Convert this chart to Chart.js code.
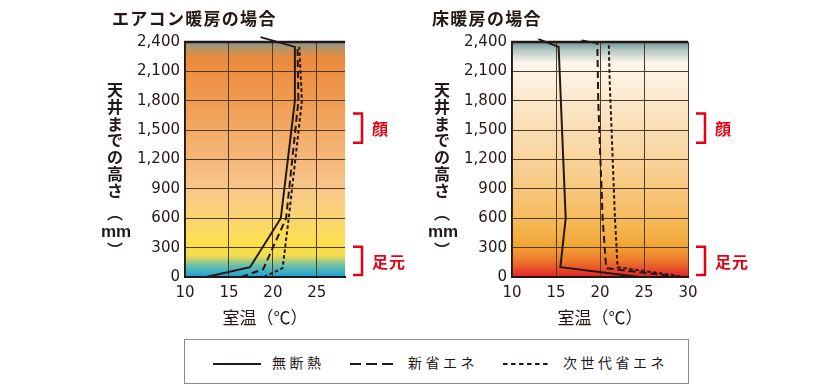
<!DOCTYPE html>
<html lang="ja">
<head>
<meta charset="utf-8">
<script src="https://cdn.jsdelivr.net/npm/chart.js@4.4.0/dist/chart.umd.min.js"></script>
<style>
  body { margin: 0; background: #fff; }
  #wrap { position: relative; width: 820px; height: 390px; overflow: hidden; }
  #graficoAc { position: absolute; left: 0; top: 0; }
  #graficoYuka { position: absolute; left: 420px; top: 0; }
  #legenda { position: absolute; left: 184px; top: 339px; width: 503px; height: 43px; border: 1px solid #8c8c8c; }
  #legenda svg { position: absolute; top: 22px; }
  #legenda span { position: absolute; top: 12px; font: 14px "Noto Sans CJK JP", sans-serif; letter-spacing: 3.5px; color: #231815; line-height: 20px; }
</style>
</head>
<body>
<div id="wrap">
  <canvas id="graficoAc" width="420" height="330"></canvas>
  <canvas id="graficoYuka" width="400" height="330"></canvas>
  <div id="legenda">
    <svg style="left:28px" width="48" height="4"><line x1="0" y1="2" x2="48" y2="2" stroke="#231815" stroke-width="2"/></svg>
    <span style="left:87px">無断熱</span>
    <svg style="left:165px" width="44" height="4"><line x1="0" y1="2" x2="44" y2="2" stroke="#231815" stroke-width="2" stroke-dasharray="11 5"/></svg>
    <span style="left:223px">新省エネ</span>
    <svg style="left:318px" width="45" height="4"><line x1="0" y1="2" x2="45" y2="2" stroke="#231815" stroke-width="2" stroke-dasharray="4.6 3.4"/></svg>
    <span style="left:378px">次世代省エネ</span>
  </div>
</div>
<script>
// eixo de altura (mm) e temperatura
const heightTicks = [0, 300, 600, 900, 1200, 1500, 1800, 2100, 2400]
const tempTicksAc = [10, 15, 20, 25]
const tempTicksYuka = [10, 15, 20, 25, 30]
const seriesNames = ['無断熱', '新省エネ', '次世代省エネ']

// エアコン暖房の場合
const acMudannetsuTemp = [12.4, 17.4, 20.9, 22.5, 22.5, 18.6]
const acMudannetsuHeight = [0, 100, 600, 1800, 2350, 2450]
const acShinTemp = [16.4, 18.9, 21.5, 22.9, 22.8]
const acShinHeight = [0, 80, 600, 1800, 2350]
const acJisedaiTemp = [19.0, 21.1, 21.8, 23.3, 23.0]
const acJisedaiHeight = [0, 90, 600, 1800, 2350]

// 床暖房の場合
const yukaMudannetsuTemp = [24.5, 15.5, 16.1, 15.3, 13.0]
const yukaMudannetsuHeight = [0, 100, 600, 2350, 2430]
const yukaShinTemp = [29.0, 20.7, 20.3, 19.8, 19.7, 17.5]
const yukaShinHeight = [0, 90, 600, 1800, 2390, 2420]
const yukaJisedaiTemp = [29.8, 22.0, 21.7, 21.1, 21.0]
const yukaJisedaiHeight = [0, 100, 600, 2000, 2385]

// faixas marcadas a direita
const faceRange = [1370, 1670]
const footRange = [20, 310]

const lineColor = '#231815'
const red = '#e60012'
const dashes = [[], [7, 4], [3.5, 2.5]]

function pontos(temps, heights){
  return temps.map((t, i) => ({x: t, y: heights[i]}))
}

const decoracao = {
  id: 'decoracao',
  beforeDraw(chart, args, opts){
    const {ctx, chartArea: a} = chart
    const g = ctx.createLinearGradient(0, a.top, 0, a.bottom)
    opts.fundo.forEach(([p, c]) => g.addColorStop(p, c))
    ctx.save()
    ctx.fillStyle = g
    ctx.fillRect(a.left, a.top, a.right - a.left, a.bottom - a.top)
    ctx.restore()
  },
  beforeDatasetsDraw(chart){
    const {ctx, chartArea: a} = chart
    ctx.save()
    ctx.strokeStyle = lineColor
    ctx.lineWidth = 2.5
    ctx.beginPath()
    ctx.moveTo(a.left - 1, a.top)
    ctx.lineTo(a.right, a.top)
    ctx.stroke()
    ctx.restore()
  },
  afterDraw(chart, args, opts){
    const {ctx, chartArea: a} = chart
    const y = chart.scales.y
    ctx.save()
    // titulo
    ctx.fillStyle = lineColor
    ctx.textBaseline = 'middle'
    ctx.textAlign = 'left'
    ctx.font = 'bold 17px "Noto Sans CJK JP"'
    ctx.letterSpacing = '1.3px'
    ctx.fillText(opts.titulo, opts.tituloX, 19)
    // titulo vertical do eixo y
    ctx.letterSpacing = '0px'
    ctx.textAlign = 'center'
    const cx = a.left - 70
    const chars = ['天', '井', 'ま', 'で', 'の', '高', 'さ']
    ctx.font = 'bold 16px "Noto Sans CJK JP"'
    chars.forEach((c, i) => ctx.fillText(c, cx, 90 + i * 16.8))
    ctx.fillText('︵', cx, 213)
    ctx.font = 'bold 17px "Liberation Sans"'
    ctx.fillText('mm', cx + 1, 232)
    ctx.font = 'bold 16px "Noto Sans CJK JP"'
    ctx.fillText('︶', cx, 250)
    // colchetes
    ctx.strokeStyle = red
    ctx.fillStyle = red
    ctx.lineWidth = 2.5
    ctx.textAlign = 'left'
    ctx.font = 'bold 16px "Noto Sans CJK JP"'
    ctx.letterSpacing = '1px'
    const faixas = [[faceRange, '顔'], [footRange, '足元']]
    faixas.forEach(([r, txt]) => {
      const y0 = y.getPixelForValue(r[1])
      const y1 = y.getPixelForValue(r[0])
      ctx.beginPath()
      ctx.moveTo(a.right + 8, y0)
      ctx.lineTo(a.right + 17, y0)
      ctx.lineTo(a.right + 17, y1)
      ctx.lineTo(a.right + 8, y1)
      ctx.stroke()
      ctx.fillText(txt, a.right + 27, (y0 + y1) / 2 + 1)
    })
    ctx.restore()
  }
}

function criaGrafico(canvas, series, xMax, xTicks, padding, titulo, tituloX, fundo){
  return new Chart(canvas, {
    type: 'scatter',
    data: {
      datasets: series.map((s, i) => ({
        label: seriesNames[i],
        data: pontos(s[0], s[1]),
        showLine: true,
        borderColor: lineColor,
        borderWidth: 2,
        borderDash: dashes[i],
        borderJoinStyle: 'miter',
        pointRadius: 0,
        tension: 0,
        fill: false,
        clip: false
      }))
    },
    options: {
      responsive: false,
      animation: false,
      events: [],
      layout: {padding: padding},
      plugins: {
        legend: {display: false},
        tooltip: {enabled: false},
        decoracao: {titulo, tituloX, fundo}
      },
      scales: {
        x: {
          type: 'linear',
          min: 10,
          max: xMax,
          afterBuildTicks: s => { s.ticks = xTicks.map(v => ({value: v})) },
          afterFit: s => { s.height = 53 },
          ticks: {font: {family: 'DejaVu Sans', size: 15}, color: lineColor, padding: 7},
          grid: {color: '#4f3a28', lineWidth: 1, drawTicks: false},
          border: {color: lineColor, width: 2},
          title: {display: true, text: '室温（℃）', color: lineColor, font: {family: 'Noto Sans CJK JP', size: 17}, padding: {top: 0, bottom: 2}}
        },
        y: {
          type: 'linear',
          min: 0,
          max: 2400,
          afterBuildTicks: s => { s.ticks = heightTicks.map(v => ({value: v})) },
          afterFit: s => { s.width = 60 },
          ticks: {font: {family: 'DejaVu Sans', size: 15}, color: lineColor, padding: 5, callback: v => v.toLocaleString('en-US')},
          grid: {color: '#4f3a28', lineWidth: 1, drawTicks: false},
          border: {color: lineColor, width: 1.5}
        }
      }
    },
    plugins: [decoracao]
  })
}

const fundoAc = [
  [0, '#7f9c9a'], [0.035, '#c4925a'], [0.07, '#ec8a3c'], [0.25, '#f09c52'],
  [0.5, '#f5b779'], [0.62, '#f8c68a'], [0.75, '#fbd572'], [0.86, '#fde04c'],
  [0.91, '#f2dc4e'], [0.95, '#6cc0a8'], [1, '#18a0dc']
]
const fundoYuka = [
  [0, '#6e9898'], [0.035, '#b4c8c2'], [0.09, '#fdf7ee'], [0.25, '#fce7cb'],
  [0.5, '#f9d39c'], [0.75, '#f5bb5e'], [0.87, '#f2a434'], [0.93, '#ee7a2c'], [1, '#e4222a']
]

criaGrafico(document.getElementById('graficoAc'),
  [[acMudannetsuTemp, acMudannetsuHeight], [acShinTemp, acShinHeight], [acJisedaiTemp, acJisedaiHeight]],
  28.2, tempTicksAc, {left: 125, right: 75, top: 42, bottom: 0}, 'エアコン暖房の場合', 112, fundoAc)

criaGrafico(document.getElementById('graficoYuka'),
  [[yukaMudannetsuTemp, yukaMudannetsuHeight], [yukaShinTemp, yukaShinHeight], [yukaJisedaiTemp, yukaJisedaiHeight]],
  30, tempTicksYuka, {left: 32, right: 132, top: 42, bottom: 0}, '床暖房の場合', 12, fundoYuka)
</script>
</body>
</html>
